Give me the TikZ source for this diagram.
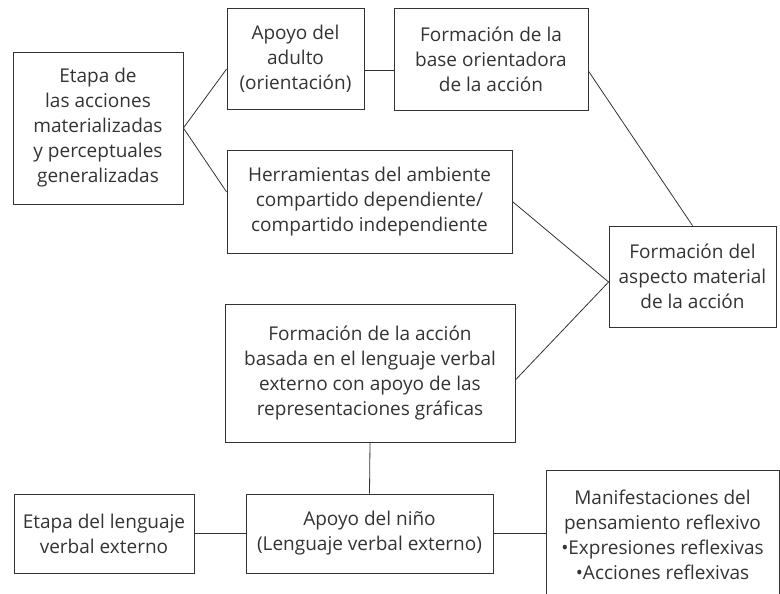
\documentclass[tikz,border=0pt]{standalone}
\usepackage{fontspec}
\setmainfont{Open Sans}
\usetikzlibrary{positioning}

\begin{document}
\begin{tikzpicture}[x=1pt, y=-1pt, font=\fontsize{19}{25}\selectfont,
		caja/.style={draw=black!80, line width=0.8pt, inner sep=0pt, align=center, text=black!80},
		linea/.style={draw=black!80, line width=0.8pt}]
		
		% --- Marco de la figura
		\useasboundingbox (0,0) rectangle (780,594);
		\clip (0,0) rectangle (780,594);
		
		% --- Etapa de las acciones materializadas
		\node[caja, minimum width=170pt, minimum height=152pt] (etapa) at (98,128)
			{Etapa de\\las acciones\\materializadas\\y perceptuales\\generalizadas};
		\node[caja, minimum width=137pt, minimum height=101pt] (adulto) at (295.5,58.5)
			{Apoyo del\\adulto\\(orientación)};
		\node[caja, minimum width=194pt, minimum height=102pt] (base) at (491,59)
			{Formación de la\\base orientadora\\de la acción};
		\node[caja, minimum width=285pt, minimum height=103pt] (herram) at (369.5,201.5)
			{Herramientas del ambiente\\compartido dependiente/\\compartido independiente};
		\node[caja, minimum width=167pt, minimum height=101pt] (aspecto) at (692.5,276.5)
			{Formación del\\aspecto material\\de la acción};
		
		% --- Etapa del lenguaje verbal externo
		\node[caja, minimum width=290pt, minimum height=138pt] (accion) at (370,373)
			{Formación de la acción\\basada en el lenguaje verbal\\externo con apoyo de las\\representaciones gráficas};
		\node[caja, minimum width=180pt, minimum height=79pt] (lenguaje) at (104,533.5)
			{Etapa del lenguaje\\verbal externo};
		\node[caja, minimum width=247pt, minimum height=79pt] (nino) at (369.5,533.5)
			{Apoyo del niño\\(Lenguaje verbal externo)};
		\node[caja, minimum width=233pt, minimum height=130pt] (manif) at (662.5,535)
			{Manifestaciones del\\pensamiento reflexivo\\•Expresiones reflexivas\\•Acciones reflexivas};
		
		% --- Conexiones
		\coordinate (llegada) at ([yshift=-5.5pt]aspecto.west);
		\draw[linea] (etapa.east) -- ([yshift=-10.5pt]adulto.west);
		\draw[linea] (etapa.east) -- ([yshift=9.5pt]herram.west);
		\draw[linea] ([yshift=-11.5pt]adulto.east) -- ([yshift=-11pt]base.west);
		\draw[linea] ([yshift=-12pt]base.east) -- (aspecto.north);
		\draw[linea] (herram.east) -- (llegada);
		\draw[linea] ([yshift=-7pt]accion.east) -- (llegada);
		\draw[linea] (accion.south) -- (nino.north);
		\draw[linea] (lenguaje.east) -- (nino.west);
		\draw[linea] (nino.east) -- (manif.west |- nino.east);
		
	\end{tikzpicture}
\end{document}
